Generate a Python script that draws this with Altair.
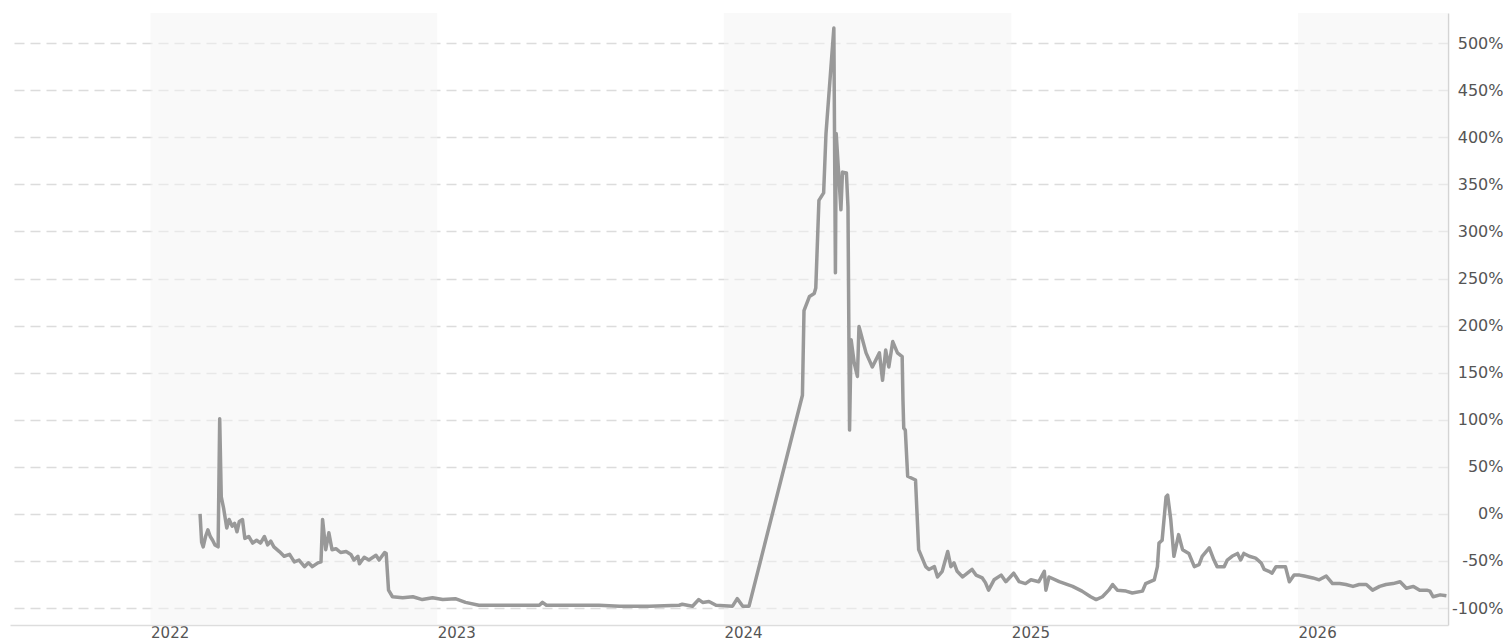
import altair as alt
import pandas as pd

dates_2022 = [
    "2022-03-05", "2022-03-07", "2022-03-09", "2022-03-12", "2022-03-15", "2022-03-18", "2022-03-21", "2022-03-24", "2022-03-28", "2022-03-30",
    "2022-04-01", "2022-04-04", "2022-04-08", "2022-04-11", "2022-04-15", "2022-04-18", "2022-04-21", "2022-04-24", "2022-04-28", "2022-05-01",
    "2022-05-06", "2022-05-11", "2022-05-16", "2022-05-21", "2022-05-26", "2022-05-30", "2022-06-03", "2022-06-07", "2022-06-14", "2022-06-20",
    "2022-06-27", "2022-07-03", "2022-07-09", "2022-07-16", "2022-07-21", "2022-07-26", "2022-08-02", "2022-08-06", "2022-08-08", "2022-08-12",
    "2022-08-16", "2022-08-20", "2022-08-25", "2022-08-31", "2022-09-07", "2022-09-13", "2022-09-17", "2022-09-22", "2022-09-24", "2022-09-30",
    "2022-10-06", "2022-10-15", "2022-10-19", "2022-10-26", "2022-10-28", "2022-10-31", "2022-11-05", "2022-11-18", "2022-12-01", "2022-12-13",
    "2022-12-26",
]
values_2022 = [
    0, -30, -35, -24, -17, -24, -28, -33, -35, 101,
    18, 6, -15, -6, -13, -10, -19, -8, -6, -26,
    -24, -31, -28, -31, -24, -33, -29, -35, -40, -45,
    -43, -51, -49, -56, -52, -56, -52, -51, -6, -38,
    -20, -38, -37, -41, -40, -43, -49, -45, -53, -46,
    -49, -44, -49, -41, -42, -81, -88, -89, -88, -91,
    -89,
]

dates_2023 = [
    "2023-01-08", "2023-01-24", "2023-02-06", "2023-02-23", "2023-03-21", "2023-05-11", "2023-05-15", "2023-05-20", "2023-07-26", "2023-08-21",
    "2023-09-28", "2023-11-05", "2023-11-09", "2023-11-22", "2023-11-30", "2023-12-05", "2023-12-13", "2023-12-22",
]
values_2023 = [
    -91, -90, -94, -97, -97, -97, -94, -97, -97, -98,
    -98, -97, -96, -98, -91, -94, -93, -97,
]

dates_2024 = [
    "2024-01-12", "2024-01-18", "2024-01-25", "2024-02-02", "2024-04-10", "2024-04-12", "2024-04-19", "2024-04-25", "2024-04-27", "2024-05-01",
    "2024-05-07", "2024-05-10", "2024-05-20", "2024-05-22", "2024-05-23", "2024-05-29", "2024-05-31", "2024-06-05", "2024-06-07", "2024-06-09",
    "2024-06-11", "2024-06-15", "2024-06-19", "2024-06-21", "2024-06-30", "2024-07-08", "2024-07-17", "2024-07-21", "2024-07-25", "2024-07-29",
    "2024-08-03", "2024-08-09", "2024-08-15", "2024-08-16", "2024-08-17", "2024-08-19", "2024-08-22", "2024-09-01", "2024-09-05", "2024-09-14",
    "2024-09-18", "2024-09-25", "2024-09-29", "2024-10-05", "2024-10-12", "2024-10-16", "2024-10-20", "2024-10-24", "2024-10-31", "2024-11-06",
    "2024-11-12", "2024-11-17", "2024-11-25", "2024-11-29", "2024-12-03", "2024-12-10", "2024-12-19", "2024-12-25",
]
values_2024 = [
    -98, -90, -98, -98, 126, 216, 231, 234, 240, 333,
    341, 404, 516, 256, 404, 323, 363, 362, 326, 89,
    185, 160, 146, 199, 171, 156, 171, 142, 174, 156,
    183, 171, 167, 121, 91, 89, 40, 36, -38, -56,
    -59, -56, -67, -61, -40, -56, -52, -61, -67, -63,
    -59, -65, -68, -73, -81, -70, -65, -72,
]

dates_2025 = [
    "2025-01-04", "2025-01-11", "2025-01-19", "2025-01-26", "2025-02-05", "2025-02-12", "2025-02-14", "2025-02-18", "2025-03-03", "2025-03-20",
    "2025-04-01", "2025-04-12", "2025-04-19", "2025-04-27", "2025-05-05", "2025-05-10", "2025-05-16", "2025-05-27", "2025-06-04", "2025-06-17",
    "2025-06-21", "2025-07-02", "2025-07-06", "2025-07-08", "2025-07-12", "2025-07-17", "2025-07-19", "2025-07-23", "2025-07-27", "2025-08-02",
    "2025-08-07", "2025-08-15", "2025-08-22", "2025-08-28", "2025-09-01", "2025-09-10", "2025-09-16", "2025-09-20", "2025-09-29", "2025-10-03",
    "2025-10-09", "2025-10-16", "2025-10-20", "2025-10-24", "2025-10-31", "2025-11-08", "2025-11-15", "2025-11-19", "2025-11-25", "2025-11-29",
    "2025-12-04", "2025-12-16", "2025-12-21", "2025-12-27",
]
values_2025 = [
    -63, -72, -74, -70, -72, -61, -81, -67, -72, -77,
    -82, -88, -91, -88, -81, -75, -81, -82, -84, -82,
    -74, -70, -56, -31, -28, 18, 20, -6, -45, -22,
    -38, -42, -56, -54, -45, -36, -49, -56, -56, -49,
    -45, -42, -49, -42, -45, -47, -52, -59, -61, -63,
    -56, -56, -72, -65,
]

dates_2026 = [
    "2026-01-03", "2026-01-09", "2026-01-20", "2026-01-28", "2026-02-06", "2026-02-14", "2026-02-23", "2026-03-03", "2026-03-12", "2026-03-20",
    "2026-03-29", "2026-04-06", "2026-04-15", "2026-04-23", "2026-05-02", "2026-05-11", "2026-05-19", "2026-05-28", "2026-06-05", "2026-06-14",
    "2026-06-18", "2026-06-22", "2026-07-01", "2026-07-09",
]
values_2026 = [
    -65, -66, -68, -70, -66, -74, -74, -75, -77, -75,
    -75, -81, -77, -75, -74, -72, -79, -77, -81, -81,
    -82, -88, -86, -87,
]

band_starts = ["2022-01-01", "2024-01-01", "2026-01-01"]
band_ends = ["2023-01-01", "2025-01-01", "2027-01-01"]
year_ticks = [2022, 2023, 2024, 2025, 2026]
pct_ticks = [-100, -50, 0, 50, 100, 150, 200, 250, 300, 350, 400, 450, 500]

line_df = pd.DataFrame({
    "date": dates_2022 + dates_2023 + dates_2024 + dates_2025 + dates_2026,
    "value": values_2022 + values_2023 + values_2024 + values_2025 + values_2026,
})
band_df = pd.DataFrame({"start": band_starts, "end": band_ends})

x_scale = alt.Scale(
    type="utc",
    domain=[
        alt.DateTime(year=2021, month=7, date=6, utc=True),
        alt.DateTime(year=2026, month=7, date=11, utc=True),
    ],
)
y_scale = alt.Scale(domain=[-118, 532], nice=False, zero=False)

x_axis = alt.Axis(
    values=[alt.DateTime(year=y, month=1, date=1, utc=True) for y in year_ticks],
    format="%Y",
    formatType="utc",
    labelAlign="left",
    labelBaseline="alphabetic",
    labelOverlap=False,
    labelFlush=False,
    ticks=False,
    grid=False,
    domainColor="#dddddd",
    domainWidth=1.5,
    labelFont="DejaVu Sans",
    labelFontSize=15,
    labelColor="#555555",
    labelPadding=12.5,
    title=None,
)

y_axis = alt.Axis(
    orient="right",
    values=pct_ticks,
    labelExpr="datum.value + '%'",
    ticks=False,
    domainColor="#d4d4d4",
    domainWidth=1.5,
    grid=True,
    gridColor="#dcdcdc",
    gridDash=[10, 6],
    gridWidth=1.3,
    labelAlign="right",
    labelPadding=55,
    labelFont="DejaVu Sans",
    labelFontSize=16,
    labelColor="#555555",
    title=None,
)

bands = alt.Chart(band_df).mark_rect(color="#f4f4f4", opacity=0.5, clip=True).encode(
    x=alt.X("start:T", scale=x_scale, axis=x_axis),
    x2="end:T",
)

line = alt.Chart(line_df).mark_line(color="#999999", strokeWidth=3.5, strokeJoin="round", clip=True).encode(
    x=alt.X("date:T", scale=x_scale, axis=x_axis),
    y=alt.Y("value:Q", scale=y_scale, axis=y_axis),
)

chart = alt.layer(bands, line).properties(
    width=1438,
    height=612,
    autosize="none",
    padding={"left": 2, "top": 5, "right": 55, "bottom": 16},
    background="white",
).configure_view(stroke=None)

chart.save("out.html", embed_options={"renderer": "svg", "actions": False})
